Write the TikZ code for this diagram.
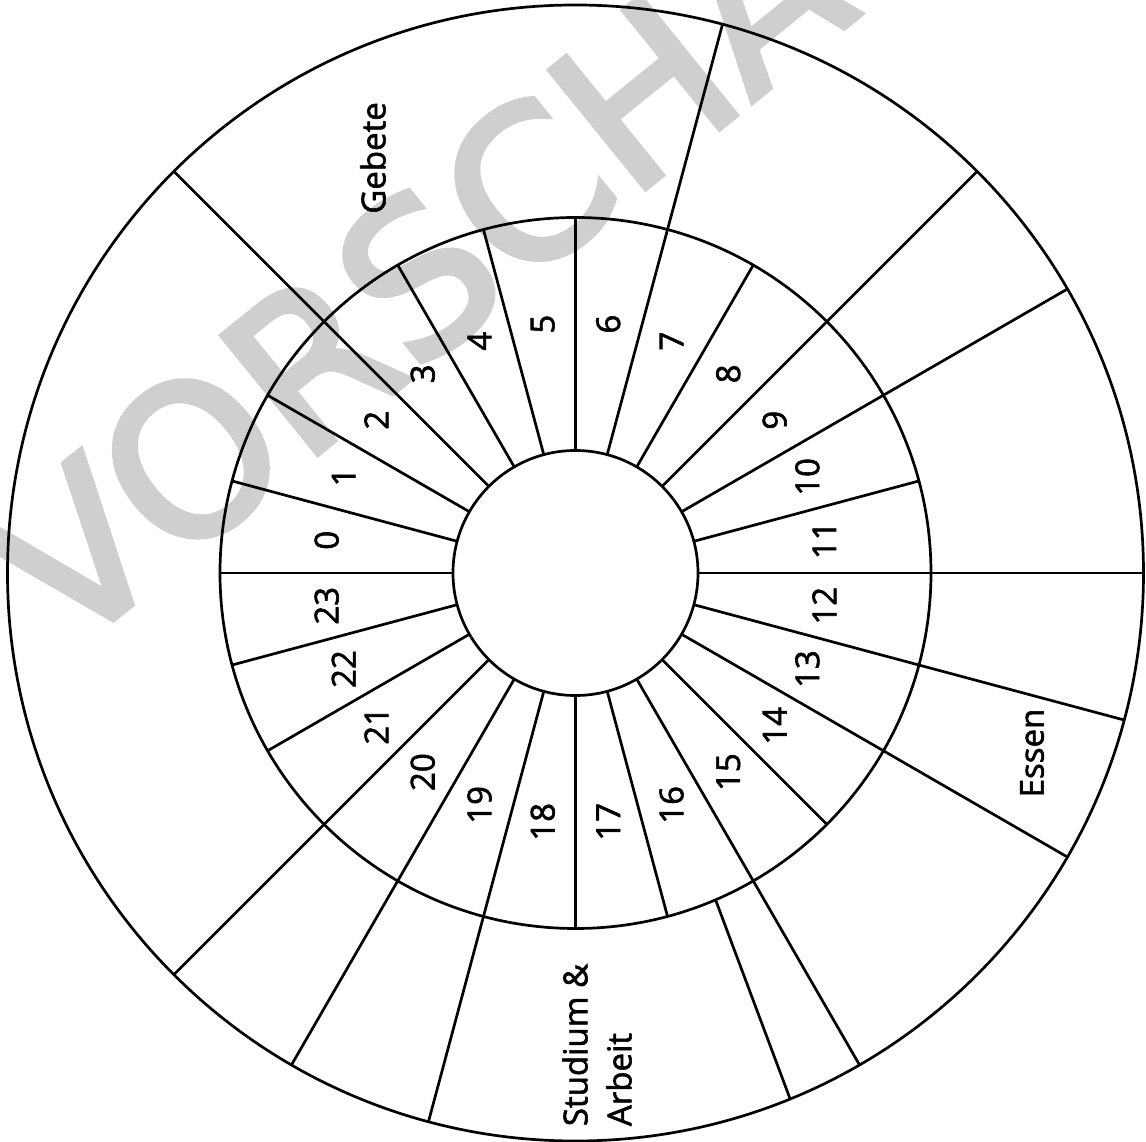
\documentclass[tikz,border=0pt]{standalone}
\usepackage{fontspec}
\setmainfont{Open Sans}
\newfontfamily\lblfont[FakeBold=1.8]{Open Sans}
\newfontfamily\wmfont[FakeBold=3]{DejaVu Sans}
\definecolor{wmgray}{RGB}{207,207,207}
\begin{document}
\begin{tikzpicture}[x=1pt,y=1pt,line width=2.7pt,
  num/.style={font=\lblfont\fontsize{33}{44}\selectfont, rotate=90, inner sep=0pt},
  lbl/.style={font=\lblfont\fontsize{33}{44}\selectfont, rotate=90, inner sep=0pt, align=left},
  wm/.style={text=wmgray, font=\wmfont\fontsize{208}{208}\selectfont, rotate=39, inner sep=0pt}]
\useasboundingbox (-575.5,-569) rectangle (570.5,573);
\fill[white] (-575.5,-569) rectangle (570.5,573);
% watermark
\node[wm] (wmark) at (-99.5,345) {VORSCHAU};
% circles
\draw (0,0) circle[radius=568];
\draw (0,0) circle[radius=355.5];
\draw (0,0) circle[radius=122.5];
% inner ring spokes
\foreach \a in {0,15,...,345} \draw (\a:122.5) -- (\a:355.5);
% outer ring spokes
\foreach \a in {135,75,45,30,0,-15,-30,-60,-105,-120,-135} \draw (\a:355.5) -- (\a:568);
\draw (-66.8:355.5) -- (-67.8:568);
% hour labels
\foreach \h in {0,...,23} \node[num] (h\h) at ({172.5-15*\h}:251) {\h};
% activity labels
\node[lbl] (gebete) at (-202.5,415) {Gebete};
\node[lbl] (essen) at (456.5,-180) {Essen};
\node[lbl] (studium) at (21.5,-472) {Studium \&\\Arbeit};
\end{tikzpicture}
\end{document}
